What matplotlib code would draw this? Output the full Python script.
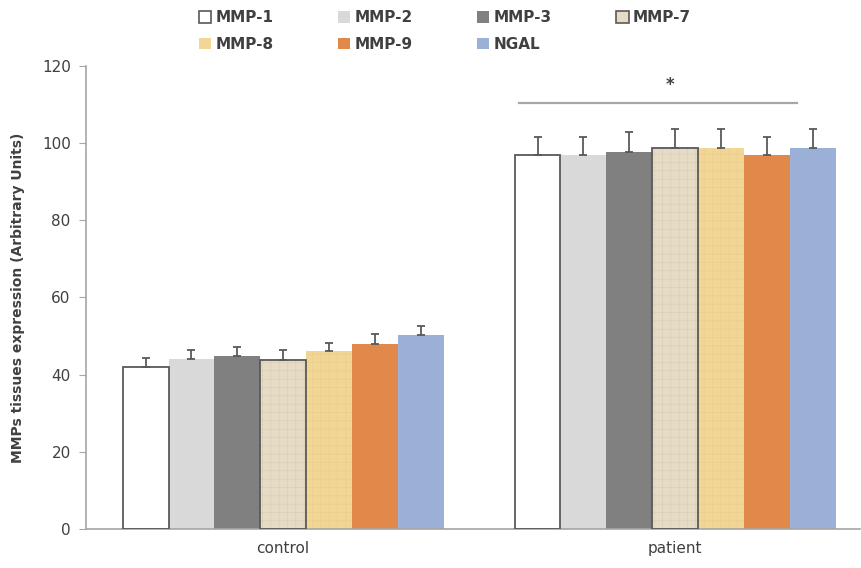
import numpy as np
import matplotlib
matplotlib.use("Agg")
import matplotlib.pyplot as plt
from matplotlib.patches import Patch

groups = ["control", "patient"]
series = ["MMP-1", "MMP-2", "MMP-3", "MMP-7", "MMP-8", "MMP-9", "NGAL"]
control_vals = [42.1, 44.0, 44.9, 43.8, 46.2, 47.9, 50.2]
control_err = [2.1, 2.4, 2.2, 2.6, 2.1, 2.6, 2.4]
patient_vals = [96.9, 97.0, 97.8, 98.8, 98.8, 97.0, 98.8]
patient_err = [4.8, 4.7, 5.2, 5.0, 5.0, 4.7, 5.0]

face = ["#ffffff", "#d9d9d9", "#808080", "#e6dcc6", "#f2d696", "#e0894a", "#9bb0d6"]
hatches = [None, None, None, "++", "++", None, None]
hatch_edge = [None, None, None, "#d8ccb2", "#e8cc88", None, None]
outline = ["#595959", None, None, "#595959", None, None, None]

plt.rcParams["hatch.linewidth"] = 0.4
fig = plt.figure(figsize=(8.61, 5.68), dpi=100)
ax = fig.add_axes([0.0999, 0.0687, 0.899, 0.8151])

x = np.arange(len(groups))
w = 0.117
vals = np.array([control_vals, patient_vals])
errs = np.array([control_err, patient_err])
for i, name in enumerate(series):
    xs = x + (i - 3) * w
    if hatches[i]:
        plt.rcParams["hatch.color"] = hatch_edge[i]
        ax.bar(xs, vals[:, i], w, color=face[i], hatch=hatches[i],
               edgecolor=hatch_edge[i], linewidth=0, zorder=2)
    else:
        ax.bar(xs, vals[:, i], w, color=face[i], linewidth=0, zorder=2)
    if outline[i]:
        ax.bar(xs, vals[:, i], w, fill=False, edgecolor=outline[i],
               linewidth=1.3, zorder=3)
    ax.errorbar(xs, vals[:, i], yerr=[np.zeros(2), errs[:, i]], fmt="none",
                ecolor="#595959", elinewidth=1.3, capsize=3, capthick=1.3, zorder=4)

# significance marker over patient group
ax.plot([1 - 3.4 * w, 1 + 2.66 * w], [110.5, 110.5], color="#a6a6a6", lw=1.6, zorder=3)
ax.text(1 - 0.1 * w, 115.0, "*", ha="center", va="center", fontsize=12,
        fontweight="bold", color="#404040")

ax.set_xlim(-0.503, 1.472)
ax.set_ylim(0, 120)
ax.set_yticks(np.arange(0, 121, 20))
ax.set_xticks(x)
ax.set_xticklabels(groups)
ax.tick_params(axis="x", length=0, pad=9, labelsize=11, labelcolor="#404040")
ax.tick_params(axis="y", length=5, direction="out", color="#a6a6a6",
               labelsize=11, labelcolor="#404040", pad=6)
for s in ["top", "right"]:
    ax.spines[s].set_visible(False)
for s in ["left", "bottom"]:
    ax.spines[s].set_color("#a6a6a6")
    ax.spines[s].set_linewidth(1.2)
ax.set_ylabel("MMPs tissues expression (Arbitrary Units)", fontsize=10,
              fontweight="bold", color="#404040", labelpad=12)

handles = {}
for i, name in enumerate(series):
    handles[name] = Patch(facecolor=face[i], edgecolor=outline[i] or face[i],
                          linewidth=1.2 if outline[i] else 0, label=name)
# legend fills column by column, so order entries to read row by row
order = ["MMP-1", "MMP-8", "MMP-2", "MMP-9", "MMP-3", "NGAL", "MMP-7"]
leg = fig.legend(handles=[handles[n] for n in order], ncol=4, loc="upper left",
                 bbox_to_anchor=(0.215, 1.006), frameon=False,
                 fontsize=11, handlelength=0.8, handleheight=0.8,
                 handletextpad=0.3, columnspacing=4.2, labelspacing=0.75)
for t in leg.get_texts():
    t.set_color("#404040")
    t.set_fontweight("bold")

fig.savefig("out.png", dpi=100)
